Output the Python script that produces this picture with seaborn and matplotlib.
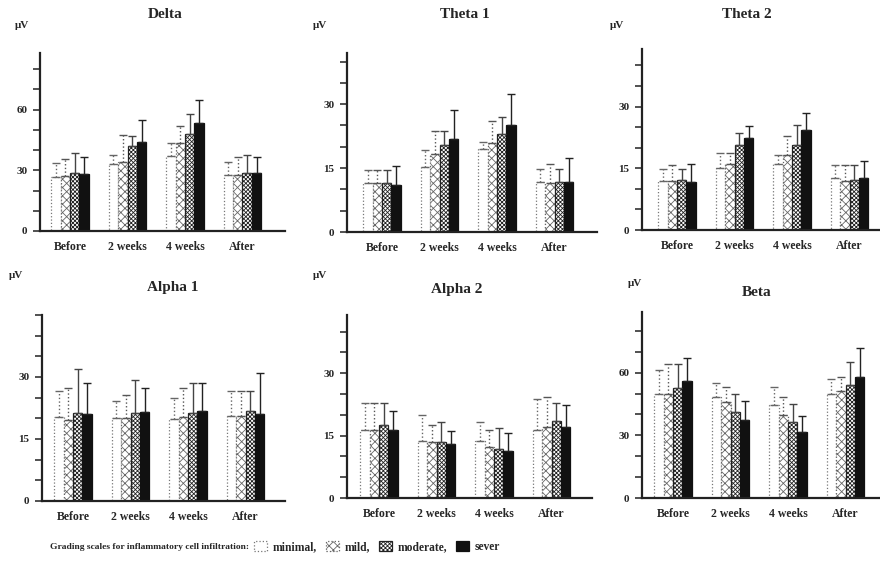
import numpy as np
import pandas as pd
import seaborn as sns
import matplotlib
matplotlib.use('Agg')
import matplotlib.pyplot as plt
from matplotlib.patches import Patch
from matplotlib.ticker import MultipleLocator

# categories
times = ['Before', '2 weeks', '4 weeks', 'After']
grades = ['minimal', 'mild', 'moderate', 'sever']

# bar heights (rows: minimal, mild, moderate, sever; columns: times), in uV
delta_mean = [[26.7, 33.0, 37.0, 27.7], [27.0, 34.0, 43.3, 27.7], [28.8, 42.0, 47.8, 28.8], [28.0, 44.0, 53.5, 28.5]]
delta_top = [[33.8, 37.5, 43.6, 34.0], [35.4, 47.5, 52.0, 36.7], [38.4, 47.0, 57.7, 37.4], [36.7, 55.0, 65.0, 36.7]]

theta1_mean = [[11.4, 15.2, 19.5, 11.8], [11.4, 18.3, 20.9, 11.6], [11.6, 20.3, 23.0, 11.8], [11.0, 21.9, 25.2, 11.8]]
theta1_top = [[14.6, 19.3, 21.2, 14.8], [14.6, 23.8, 26.0, 15.9], [14.6, 23.8, 27.0, 14.8], [15.5, 28.6, 32.3, 17.3]]

theta2_mean = [[11.8, 15.0, 16.0, 12.6], [11.8, 16.1, 18.3, 11.8], [12.2, 20.6, 20.6, 12.2], [11.6, 22.4, 24.2, 12.6]]
theta2_top = [[14.8, 18.7, 18.3, 15.9], [15.8, 18.7, 22.8, 15.9], [14.8, 23.6, 25.6, 15.9], [16.1, 25.4, 28.5, 16.7]]

alpha1_mean = [[20.3, 20.2, 19.9, 20.5], [19.5, 20.0, 20.4, 20.5], [21.3, 21.3, 21.3, 21.8], [21.1, 21.5, 21.7, 21.1]]
alpha1_top = [[26.5, 24.2, 24.9, 26.6], [27.4, 25.7, 27.4, 26.6], [32.0, 29.2, 28.6, 26.6], [28.5, 27.4, 28.6, 31.0]]

alpha2_mean = [[16.4, 13.6, 13.6, 16.4], [16.4, 13.4, 12.2, 17.0], [17.6, 13.4, 11.8, 18.4], [16.4, 13.0, 11.4, 17.0]]
alpha2_top = [[22.8, 20.0, 18.2, 23.8], [22.8, 17.6, 16.4, 24.2], [22.8, 18.2, 16.8, 22.8], [20.8, 16.2, 15.6, 22.4]]

beta_mean = [[50.0, 48.5, 44.5, 50.0], [50.0, 46.0, 39.7, 51.0], [52.5, 41.3, 36.5, 54.2], [56.0, 37.3, 31.4, 58.0]]
beta_top = [[61.3, 55.0, 53.3, 56.8], [64.2, 53.3, 48.5, 57.8], [64.2, 50.0, 45.0, 65.3], [66.9, 46.6, 39.2, 72.0]]

panel_names = ['Delta', 'Theta 1', 'Theta 2', 'Alpha 1', 'Alpha 2', 'Beta']
panel_means = [delta_mean, theta1_mean, theta2_mean, alpha1_mean, alpha2_mean, beta_mean]
panel_tops = [delta_top, theta1_top, theta2_top, alpha1_top, alpha2_top, beta_top]

# layout in pixels: axes box (left, top, right, bottom), first-group offset,
# y max, major / minor tick step, title centre, uV label position
W, H = 880, 566
layout = [
    dict(box=(40, 53, 285, 231), off=30, ymax=88, major=30, minor=10, title=(165, 15), unit=(22, 25)),
    dict(box=(347, 53, 597, 232), off=35, ymax=42, major=15, minor=5, title=(465, 15), unit=(320, 25)),
    dict(box=(642, 49, 880, 230), off=35, ymax=44, major=15, minor=5, title=(747, 15), unit=(617, 25)),
    dict(box=(42, 315, 285, 501), off=31, ymax=45, major=15, minor=5, title=(173, 288), unit=(16, 276)),
    dict(box=(347, 315, 592, 498), off=32, ymax=44, major=15, minor=5, title=(457, 290), unit=(320, 276)),
    dict(box=(642, 312, 880, 498), off=31, ymax=89, major=30, minor=10, title=(757, 293), unit=(635, 283)),
]
group_px = 57.5

faces = ['white', 'white', 'white', '#111111']
edges = ['#777777', '#666666', '#222222', '#111111']
hatches = [None, 'xxxx', 'xxxxxxxx', None]
bar_ls = [':', ':', '-', '-']
err_style = [(':', '#666666'), (':', '#555555'), ('-', '#444444'), ('-', '#222222')]

sns.set_style('white')
plt.rcParams['font.family'] = ['Liberation Serif', 'DejaVu Serif']
plt.rcParams['hatch.linewidth'] = 0.6

fig = plt.figure(figsize=(W / 100, H / 100), dpi=100)
fig.patch.set_facecolor('white')

for name, means, tops, lay in zip(panel_names, panel_means, panel_tops, layout):
    l, t, r, b = lay['box']
    ax = fig.add_axes([l / W, 1 - b / H, (r - l) / W, (b - t) / H])
    df = pd.DataFrame({
        'time': [tm for g in grades for tm in times],
        'grade': [g for g in grades for tm in times],
        'value': [v for row in means for v in row],
    })
    sns.barplot(data=df, x='time', y='value', hue='grade', order=times, hue_order=grades,
                palette=dict(zip(grades, faces)), saturation=1, width=0.65,
                errorbar=None, legend=False, ax=ax)
    bar_conts = list(ax.containers)
    for i, cont in enumerate(bar_conts):
        xs, hs = [], []
        for bar in cont.patches:
            bar.set_edgecolor(edges[i])
            bar.set_linewidth(0.9)
            bar.set_linestyle(bar_ls[i])
            if hatches[i]:
                bar.set_hatch(hatches[i])
            xs.append(bar.get_x() + bar.get_width() / 2)
            hs.append(bar.get_height())
        up = np.array(tops[i]) - np.array(hs)
        ls, ec = err_style[i]
        eb = ax.errorbar(xs, hs, yerr=[np.zeros(len(hs)), up], fmt='none', ecolor=ec,
                         elinewidth=1.0, capsize=3, capthick=1.0, zorder=1)
        eb[2][0].set_linestyle(ls)

    x0 = -lay['off'] / group_px
    ax.set_xlim(x0, x0 + (r - l) / group_px)
    ax.set_ylim(0, lay['ymax'])
    ax.set_yticks(np.arange(0, lay['ymax'] - 5, lay['major']))
    ax.yaxis.set_minor_locator(MultipleLocator(lay['minor']))
    ax.tick_params(axis='y', which='both', direction='out', length=5, width=1.2,
                   color='#333333', left=True, labelsize=8, pad=4)
    ax.tick_params(axis='x', length=0, labelsize=8.5, pad=7)
    for lab in ax.get_xticklabels() + ax.get_yticklabels():
        lab.set_fontweight('bold')
    ax.set_xlabel('')
    ax.set_ylabel('')
    sns.despine(ax=ax)
    for side in ['left', 'bottom']:
        ax.spines[side].set_linewidth(1.6)
        ax.spines[side].set_color('#222222')
    fig.text(lay['title'][0] / W, 1 - lay['title'][1] / H, name, ha='center', va='center',
             fontsize=11, fontweight='bold')
    fig.text(lay['unit'][0] / W, 1 - lay['unit'][1] / H, 'μV', ha='center', va='center',
             fontsize=8, fontweight='bold')

fig.text(50 / W, 1 - 547 / H, 'Grading scales for inflammatory cell infiltration:',
         ha='left', va='center', fontsize=6.8, fontweight='bold')
handles = [Patch(facecolor=faces[i], edgecolor=edges[i], hatch=hatches[i], linestyle=bar_ls[i],
                 linewidth=0.9) for i in range(4)]
fig.legend(handles, ['minimal,', 'mild,', 'moderate,', 'sever'], loc='center left',
           bbox_to_anchor=(254 / W, 1 - 547 / H), ncol=4, frameon=False,
           handlelength=1.1, handleheight=1.0, handletextpad=0.5, columnspacing=0.8,
           borderaxespad=0, borderpad=0, prop={'weight': 'bold', 'size': 8.3})

fig.savefig('out.png', dpi=100, facecolor='white')
